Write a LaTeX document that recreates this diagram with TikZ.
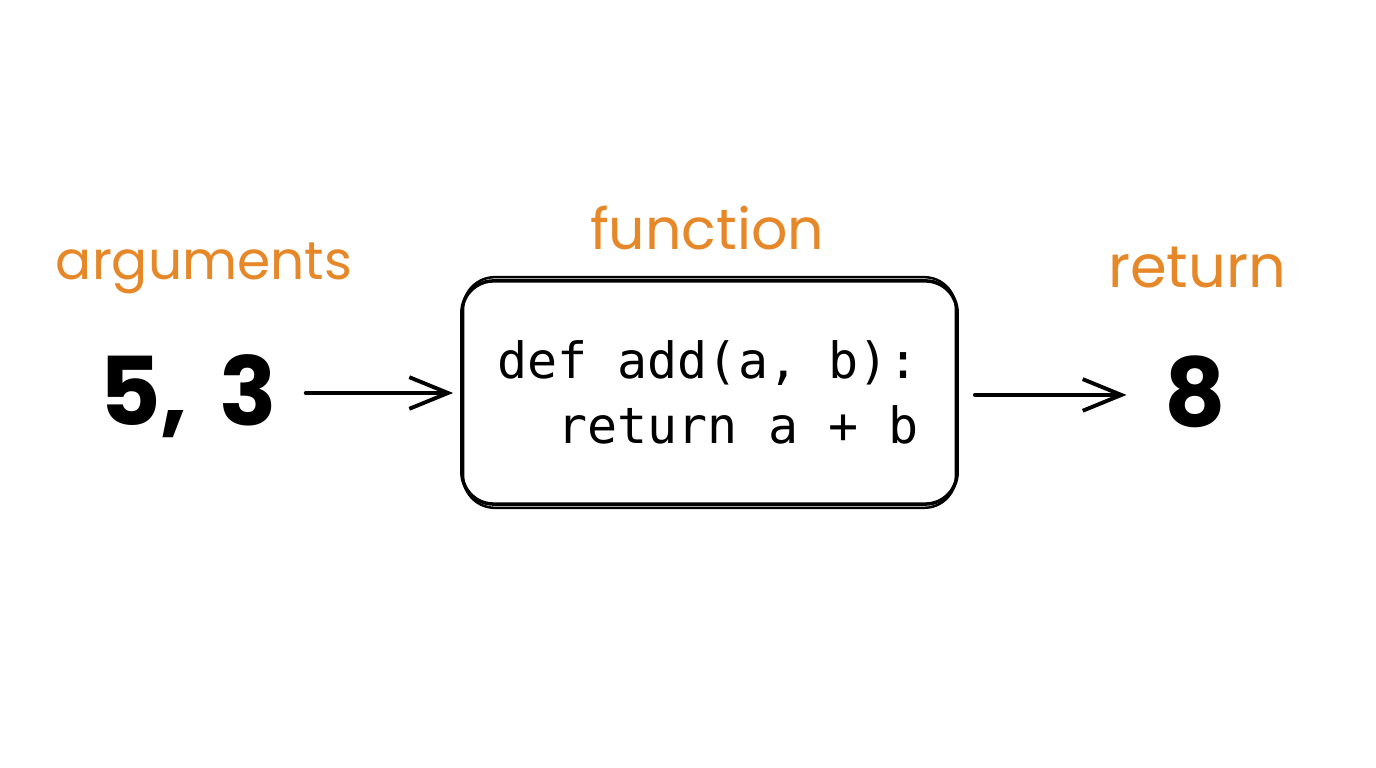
\documentclass[tikz,border=0pt]{standalone}
\usepackage{fontspec}
\setmainfont{Poppins}
\newfontfamily\codefont{DejaVu Sans Mono}
\usetikzlibrary{arrows.meta}
\definecolor{lblorange}{RGB}{230,135,40}
\tikzset{
  lbl/.style={text=lblorange, inner sep=0pt},
  bignum/.style={font=\bfseries\fontsize{27}{30}\selectfont, inner sep=0pt},
  fnbox/.style={draw, line width=1pt, rounded corners=9pt, minimum width=4.95cm, minimum height=2.23cm, inner sep=0pt},
  sketch/.style={line width=0.7pt, rounded corners=9pt},
  arr/.style={line width=1.1pt, line cap=round, -{Straight Barb[length=11pt, width=9pt, line width=1.1pt]}},
}
\begin{document}
\begin{tikzpicture}[x=0.01cm, y=-0.01cm]
\useasboundingbox (0,0) rectangle (1376,768);
\fill[white] (0,0) rectangle (1376,768);
% labels
\node[lbl, font=\fontsize{15.2}{18}\selectfont] (largs) at (204,268) {arguments};
\node[lbl, font=\fontsize{16.2}{19}\selectfont] (lfun) at (707,228) {function};
\node[lbl, font=\fontsize{16.8}{20}\selectfont] (lret) at (1197,268) {return};
% function box (sketchy double stroke)
\node[fnbox] (box) at (709.5,392.5) {};
\draw[sketch] ([shift={(3,-2)}]box.north west) rectangle ([shift={(-3,2)}]box.south east);
\node[align=left, font=\codefont\fontsize{14.2}{18.5}\selectfont, inner sep=0pt] (code) at (708,392)
  {def add(a, b):\\\phantom{re}return a + b};
% numbers
\node[bignum] (args) at (188,396) {5,\hspace{0.12em} 3};
\node[bignum] (res) at (1195,392) {8};
% arrows
\draw[arr, shorten <=0.28cm, shorten >=0.07cm] ([yshift=0.85pt]args.east) -- ([yshift=0.85pt]args.east -| box.west);
\draw[arr, shorten <=0.16cm, shorten >=0.37cm] ([yshift=-0.7pt]box.east) -- ([yshift=-0.7pt]box.east -| res.west);
\end{tikzpicture}
\end{document}
